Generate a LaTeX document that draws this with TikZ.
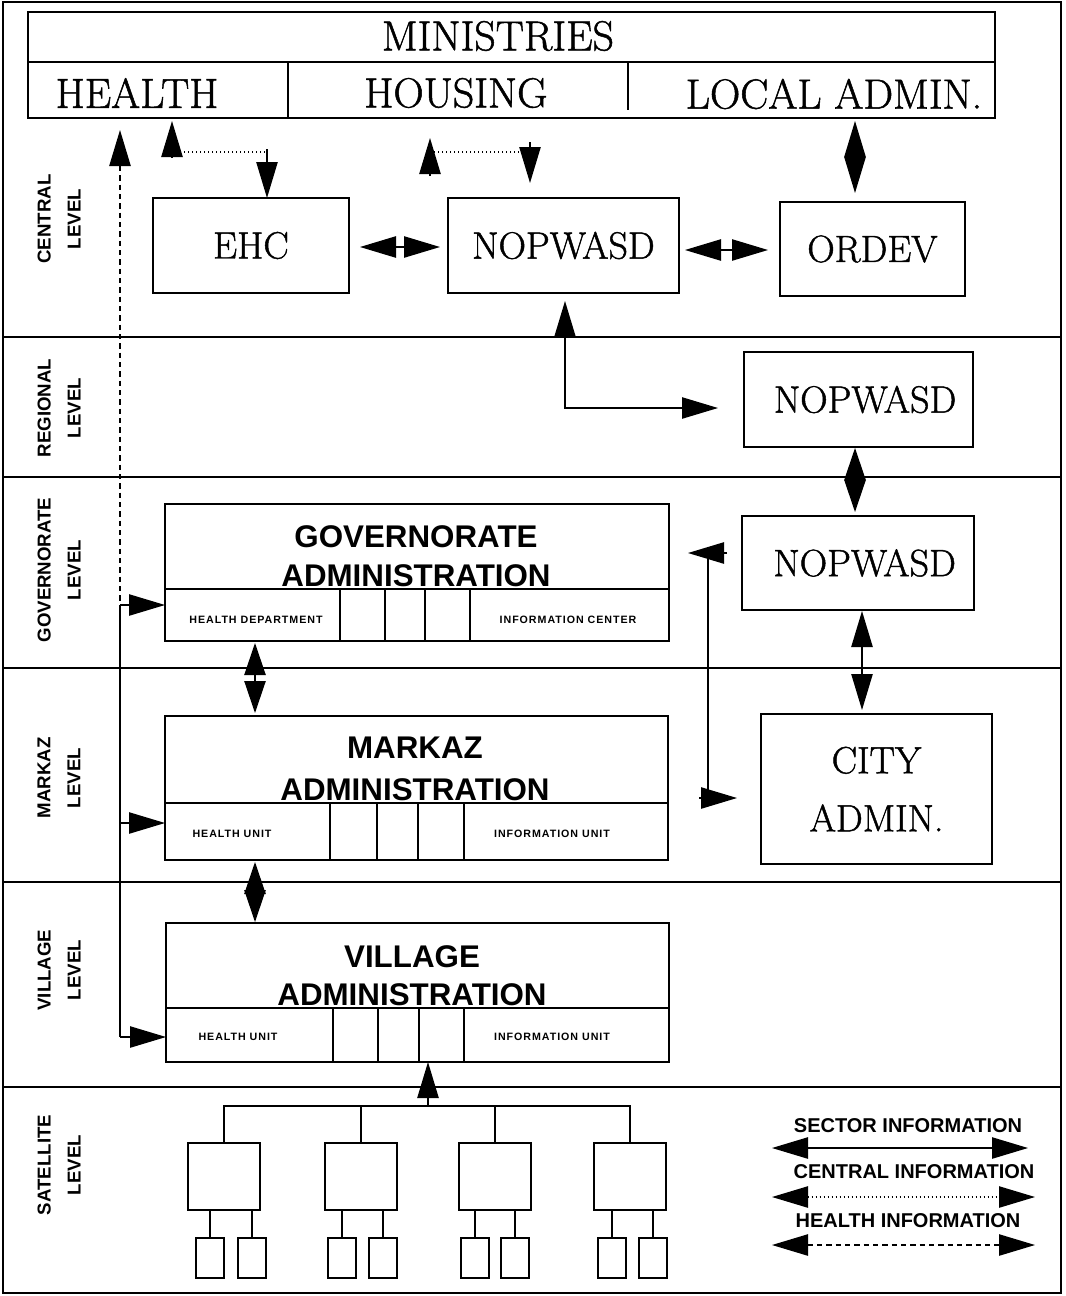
\documentclass[tikz,border=0pt]{standalone}
\usepackage{fontspec}
\setsansfont{Liberation Sans}
\newfontfamily\hvserif{Latin Modern Roman}[FakeBold=1.2]
\usetikzlibrary{arrows.meta}
\begin{document}
\begin{tikzpicture}[x=0.75pt,y=-0.75pt,
  every node/.style={inner sep=0pt,outer sep=0pt},
  frame/.style={line width=1.5pt},
  box/.style={draw,line width=1.4pt,rectangle,align=center},
  bl/.style={line width=1.4pt},
  serif/.style={font=\hvserif\fontsize{28.5}{43.5}\selectfont},
  minfont/.style={font=\hvserif\fontsize{31.5}{34}\selectfont},
  lvl/.style={font=\sffamily\bfseries\fontsize{14}{22.5}\selectfont,rotate=90,align=center},
  title/.style={font=\sffamily\bfseries\fontsize{23.5}{28}\selectfont,anchor=base},
  tiny/.style={font=\sffamily\bfseries\fontsize{8}{9}\selectfont\addfontfeature{LetterSpace=9}},
  legend/.style={font=\sffamily\bfseries\fontsize{15}{17}\selectfont},
  conn/.style={line width=1pt},
  cinfo/.style={conn,dotted},
  hinfo/.style={conn,dash pattern=on 4pt off 3pt},
  tip/.style={conn,-{Triangle[length=27pt,width=16pt]}},
  dbl/.style={conn,{Triangle[length=27pt,width=16pt]}-{Triangle[length=27pt,width=16pt]}},
  sdbl/.style={conn,{Triangle[length=24pt,width=16pt]}-{Triangle[length=24pt,width=16pt]}}
]
\useasboundingbox (0,0) rectangle (1066,1296);
% outer frame
\draw[frame] (3,2) rectangle (1061,1293);
% level lines
\foreach \yy in {337,477,668,882,1087} \draw[frame] (3,\yy) -- (1061,\yy);

% level labels
\node[lvl] (lc) at (59,219) {CENTRAL\\LEVEL};
\node[lvl] (lr) at (59,408) {REGIONAL\\LEVEL};
\node[lvl] (lg) at (59,570) {GOVERNORATE\\LEVEL};
\node[lvl] (lm) at (59,778) {MARKAZ\\LEVEL};
\node[lvl] (lv) at (59,970) {VILLAGE\\LEVEL};
\node[lvl] (ls) at (59,1165) {SATELLITE\\LEVEL};

% ministries
\node[box,minimum width=725.25pt,minimum height=79.5pt] (min) at (511.5,65) {};
\draw[bl] (min.west |- 0,62) -- (min.east |- 0,62);
\draw[bl] (288,62) -- (288,118);
\draw[bl] (628,62) -- (628,110);
\node[minfont] (mintxt) at (498,36) {MINISTRIES};
\node[minfont] (health) at (137,93) {HEALTH};
\node[minfont] (housing) at (456,93) {HOUSING};
\node[minfont] (localadmin) at (834,94) {LOCAL ADMIN.};

% central level
\node[box,serif,minimum width=147pt,minimum height=71.25pt] (ehc) at (251,245.5) {EHC};
\node[box,serif,minimum width=173.25pt,minimum height=71.25pt] (nopc) at (563.5,245.5) {NOPWASD};
\node[box,serif,minimum width=138.75pt,minimum height=70.5pt] (ordev) at (872.5,249) {ORDEV};
% regional
\node[box,serif,minimum width=171.75pt,minimum height=71.25pt] (nopr) at (858.5,399.5) {\hspace{10pt}NOPWASD};
% governorate
\node[box,serif,minimum width=174pt,minimum height=70.5pt] (nopg) at (858,563) {\hspace{10pt}NOPWASD};
\node[box,serif,minimum width=173.25pt,minimum height=112.5pt] (city) at (876.5,789) {CITY\\ADMIN.};

% governorate administration
\node[box,minimum width=378pt,minimum height=102.75pt] (gov) at (417,572.5) {};
\draw[bl] (gov.west |- 0,589) -- (gov.east |- 0,589);
\foreach \xx in {340,385,425,470} \draw[bl] (\xx,589) -- (\xx,0 |- gov.south);
\node[title] (govt1) at (416,547) {GOVERNORATE};
\node[title] (govt2) at (416,586) {ADMINISTRATION};
\node[tiny] (govhd) at (256,620) {HEALTH DEPARTMENT};
\node[tiny] (govic) at (568,620) {INFORMATION CENTER};

% markaz administration
\node[box,minimum width=377.25pt,minimum height=108pt] (mark) at (416.5,788) {};
\draw[bl] (mark.west |- 0,803) -- (mark.east |- 0,803);
\foreach \xx in {330,377,418,464} \draw[bl] (\xx,803) -- (\xx,0 |- mark.south);
\node[title] (markt1) at (415,758) {MARKAZ};
\node[title] (markt2) at (415,800) {ADMINISTRATION};
\node[tiny] (markhu) at (232,834) {HEALTH UNIT};
\node[tiny] (markiu) at (552,834) {INFORMATION UNIT};

% village administration
\node[box,minimum width=377.25pt,minimum height=104.25pt] (vil) at (417.5,992.5) {};
\draw[bl] (vil.west |- 0,1008) -- (vil.east |- 0,1008);
\foreach \xx in {333,378,419,464} \draw[bl] (\xx,1008) -- (\xx,0 |- vil.south);
\node[title] (vilt1) at (412,967) {VILLAGE};
\node[title] (vilt2) at (412,1005) {ADMINISTRATION};
\node[tiny] (vilhu) at (238,1037) {HEALTH UNIT};
\node[tiny] (viliu) at (552,1037) {INFORMATION UNIT};

% satellite boxes
\foreach \nm/\xx in {s1/224,s2/361,s3/495,s4/630}
  \node[box,minimum width=54pt,minimum height=50.25pt] (\nm) at (\xx,1176.5) {};
\foreach \nm/\xx in {s1a/210,s1b/252,s2a/342,s2b/383,s3a/475,s3b/515,s4a/612,s4b/653}
  \node[box,minimum width=21pt,minimum height=30pt] (\nm) at (\xx,1258) {};
\foreach \sm/\bg in {s1a/s1,s1b/s1,s2a/s2,s2b/s2,s3a/s3,s3b/s3,s4a/s4,s4b/s4}
  \draw[conn] (\sm.north) -- (\sm.north |- \bg.south);
\coordinate (treeL) at (s1.north |- 0,1106);
\coordinate (treeR) at (s4.north |- 0,1106);
\draw[conn] (s1.north) -- (treeL) -- (treeR) -- (s4.north);
\draw[conn] (s2.north) -- (s2.north |- treeL);
\draw[conn] (s3.north) -- (s3.north |- treeL);
\draw[tip] (428,1106) -- (vil.south -| 428,0);

% health information line (left)
\coordinate (hl1) at (120,166);
\coordinate (hl2) at (120,605);
\coordinate (hl3) at (120,823);
\coordinate (hl4) at (120,1037);
\draw[hinfo] (hl1) -- (hl2);
\draw[conn] (hl2) -- (hl4);
\draw[tip] (hl1) -- (120,130);
\draw[tip] (hl2) -- (gov.west |- hl2);
\draw[tip] (hl3) -- (mark.west |- hl3);
\draw[tip] (hl4) -- (vil.west |- hl4);

% central information: health -- EHC
\draw[cinfo] (172,152) -- (267,152);
\draw[tip] (172,157) -- (172,121);
\draw[tip] (267,149) -- (ehc.north -| 267,0);
% central information: housing -- NOPWASD
\draw[cinfo] (430,152) -- (530,152);
\draw[tip] (430,176) -- (430,138);
\draw[tip] (530,142) -- (530,183);

% sector information
\draw[dbl] (855,121) -- (855,193);
\draw[dbl] (360,247) -- (440,247);
\draw[dbl] (685,250) -- (768,250);
\draw[dbl] (565,301) |- (718,408);
\draw[sdbl] (855,448) -- (855,512);
\draw[dbl] (862,611) -- (862,710);
\draw[conn] (708,553) -- (708,798);
\draw[tip] (727,553) -- (688,553);
\draw[tip] (699,798) -- (737,798);
\draw[sdbl] (255,643) -- (255,713);
\draw[sdbl] (255,862) -- (255,922);

% legend
\node[legend] (lg1) at (908,1126) {SECTOR INFORMATION};
\draw[dbl] (772,1148) -- (1028,1148);
\node[legend] (lg2) at (914,1172) {CENTRAL INFORMATION};
\draw[dbl,dotted] (772,1197) -- (1035,1197);
\node[legend] (lg3) at (908,1221) {HEALTH INFORMATION};
\draw[dbl,dash pattern=on 4pt off 3pt] (772,1245) -- (1035,1245);
\end{tikzpicture}
\end{document}
